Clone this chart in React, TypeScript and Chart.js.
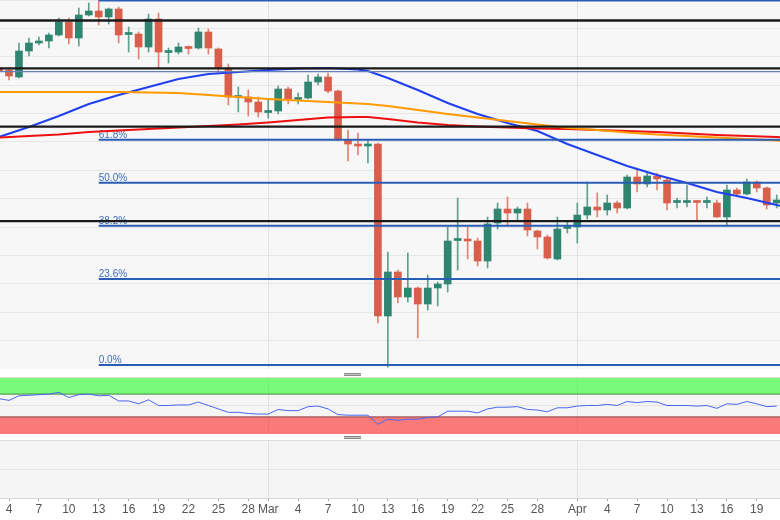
import React, { useEffect, useRef } from "react";
import { Chart, registerables } from "chart.js";

Chart.register(...registerables);
Chart.defaults.font.family = '"Liberation Sans", Arial, sans-serif';

// ---------------- data ----------------
// day index: 0 = 4 Feb 2020 (daily candles, weekends included)
const candleDays = [
  -1, 0, 1, 2, 3, 4, 5, 6, 7, 8, 9, 10, 11, 12, 13, 14, 15, 16, 17, 18, 19,
  20, 21, 22, 23, 24, 25, 26, 27, 28, 29, 30, 31, 32, 33, 34, 35, 36, 37, 38,
  39, 40, 41, 42, 43, 44, 45, 46, 47, 48, 49, 50, 51, 52, 53, 54, 55, 56, 57,
  58, 59, 60, 61, 62, 63, 64, 65, 66, 67, 68, 69, 70, 71, 72, 73, 74, 75, 76, 77,
];
const opens = [
  9296, 9260, 9134, 9602, 9746, 9782, 9890, 10124, 9836, 10250, 10322, 10214, 10358, 9899, 9908, 9674, 10178, 9575, 9584, 9656, 9656,
  9944, 9638, 9296, 8765, 8774, 8684, 8495, 8522, 8918, 8729, 8756, 9044, 9134, 8882, 8000, 7928, 7892, 7928, 4832,
  5624, 5174, 5336, 5048, 5336, 5408, 6191, 6218, 6182, 5822, 6506, 6758, 6686, 6758, 6362, 6254, 5858, 6407, 6434,
  6650, 6794, 6740, 6866, 6776, 7334, 7208, 7352, 7280, 6875, 6875, 6893, 6875, 6866, 6614, 7100, 7028, 7244, 7136, 6866,
];
const highs = [
  9368, 9296, 9746, 9836, 9854, 9926, 10196, 10196, 10376, 10466, 10510, 10376, 10394, 10034, 9944, 10268, 10286, 9656, 9746, 9692, 10016,
  9998, 9656, 9368, 8954, 8900, 8774, 8720, 8972, 8954, 8846, 9170, 9188, 9206, 8900, 8180, 8126, 8000, 7946, 5984,
  5660, 5966, 5354, 5570, 5444, 6434, 6956, 6434, 6236, 6614, 6866, 6974, 6794, 6866, 6380, 6290, 6614, 6524, 6866,
  7244, 7046, 7010, 6902, 7370, 7496, 7424, 7406, 7316, 6956, 7190, 6902, 6974, 6920, 7190, 7136, 7298, 7262, 7154, 7010,
];
const lows = [
  9188, 9080, 9116, 9512, 9710, 9656, 9872, 9728, 9692, 10232, 10070, 10088, 9746, 9584, 9458, 9584, 9296, 9386, 9548, 9548, 9638,
  9548, 9224, 8630, 8504, 8432, 8414, 8396, 8468, 8648, 8648, 8738, 8990, 8846, 7982, 7622, 7730, 7586, 4706, 3910,
  5066, 5084, 4436, 4940, 5012, 5264, 5660, 5858, 5732, 5696, 6398, 6470, 6560, 6272, 6038, 5858, 5840, 6326, 6146,
  6578, 6614, 6650, 6686, 6758, 7064, 7154, 7100, 6740, 6776, 6794, 6560, 6776, 6605, 6470, 6992, 7010, 7064, 6758, 6776,
];
const closes = [
  9242, 9152, 9602, 9746, 9782, 9890, 10124, 9836, 10250, 10322, 10214, 10358, 9890, 9908, 9674, 10178, 9584, 9584, 9674, 9647, 9944,
  9656, 9296, 8774, 8774, 8684, 8504, 8504, 8918, 8738, 8738, 9044, 9134, 8882, 8018, 7928, 7892, 7928, 4832, 5624,
  5174, 5336, 5048, 5336, 5408, 6182, 6200, 6182, 5822, 6488, 6758, 6686, 6758, 6380, 6254, 5876, 6398, 6416, 6650,
  6794, 6740, 6866, 6776, 7334, 7208, 7352, 7298, 6866, 6884, 6884, 6875, 6884, 6614, 7100, 7028, 7244, 7136, 6830, 6920,
];

// moving averages
const maDays = [-1, 2, 5, 8, 11, 14, 17, 20, 23, 26, 29, 32, 35, 36, 38, 41, 44, 47, 50, 53, 56, 59, 62, 65, 68, 71, 74, 77, 78];
const maFast = [8054, 8234, 8432, 8648, 8810, 8954, 9098, 9188, 9224, 9260, 9287, 9296, 9269, 9242, 9116, 8900, 8666, 8468, 8306, 8162, 7928, 7730, 7532, 7370, 7226, 7064, 6956, 6830, 6794];
const maMid = [8864, 8864, 8864, 8864, 8864, 8855, 8846, 8810, 8774, 8738, 8711, 8684, 8657, 8648, 8612, 8540, 8468, 8405, 8342, 8279, 8216, 8180, 8135, 8099, 8072, 8045, 8018, 7991, 7982];
const maSlow = [8045, 8072, 8099, 8144, 8171, 8198, 8225, 8252, 8279, 8315, 8360, 8405, 8414, 8414, 8378, 8315, 8270, 8243, 8225, 8207, 8198, 8180, 8162, 8144, 8117, 8090, 8072, 8054, 8045];

// RSI (per candle day)
const rsiValues = [
  62, 59, 67, 68, 69, 70, 73, 64, 69, 70, 67, 68, 58, 58, 53, 60, 50, 50, 51, 51, 56,
  50, 44, 38, 38, 36, 35, 35, 43, 41, 41, 48, 49, 44, 34, 33, 33, 33, 17, 26,
  24, 26, 26, 29, 30, 40, 40, 40, 37, 44, 47, 47, 48, 43, 42, 39, 46, 46, 49,
  50, 50, 52, 50, 57, 55, 57, 56, 50, 50, 50, 49, 50, 45, 53, 52, 57, 53, 48, 49,
];
const rsiUpper = 70;
const rsiLower = 30;

// Fibonacci retracement (drawn from the 13 Feb high)
const fibStartDay = 9;
const fibHigh = 10510;
const fibLow = 3950;
const fibRatios = [0, 23.6, 38.2, 50, 61.8, 100];

// horizontal support / resistance lines
const blackLevels = [10150, 9290, 8240, 6540];
const thinBlueLevels = [9230];

// x axis ticks
const tickDays = [0, 3, 6, 9, 12, 15, 18, 21, 24, 26, 29, 32, 35, 38, 41, 44, 47, 50, 53, 57, 60, 63, 66, 69, 72, 75];
const tickLabels = ["4", "7", "10", "13", "16", "19", "22", "25", "28", "Mar", "4", "7", "10", "13", "16", "19", "22", "25", "28", "Apr", "4", "7", "10", "13", "16", "19"];
const monthDays = [26, 57];

// ---------------- view ----------------
const X_MIN = -0.903;
const X_MAX = 77.33;
const Y_MIN = 3878;
const Y_MAX = 10520;

const RED = "#d95f4c";
const GREEN = "#2f8570";
const RED_WICK = "#e2826f";
const GREEN_WICK = "#5f9f8e";

const panelBg = (color: string) => ({
  id: "panelBg",
  beforeDraw(chart: any) {
    const { ctx, chartArea: a } = chart;
    ctx.save();
    ctx.fillStyle = color;
    ctx.fillRect(a.left, a.top, a.right - a.left, a.bottom - a.top);
    ctx.restore();
  },
});

const topBorder = {
  id: "topBorder",
  afterDraw(chart: any) {
    const { ctx, chartArea: a } = chart;
    ctx.save();
    ctx.strokeStyle = "#dcdcdc";
    ctx.lineWidth = 1;
    ctx.beginPath();
    ctx.moveTo(a.left, a.top + 0.5);
    ctx.lineTo(a.right, a.top + 0.5);
    ctx.stroke();
    ctx.restore();
  },
};

const fibLabelPlugin = {
  id: "fibLabels",
  beforeDatasetsDraw(chart: any) {
    const { ctx, scales } = chart;
    const x = scales.x;
    const y = scales.y;
    ctx.save();
    ctx.font = '10px "Liberation Sans", Arial, sans-serif';
    ctx.fillStyle = "#3d6cbc";
    ctx.textBaseline = "alphabetic";
    ctx.textAlign = "left";
    fibRatios.forEach((r) => {
      const price = fibLow + ((fibHigh - fibLow) * r) / 100;
      const py = y.getPixelForValue(price);
      if (py < 12) return;
      ctx.fillText(r.toFixed(1) + "%", x.getPixelForValue(fibStartDay), py - 2);
    });
    ctx.restore();
  },
};

function xScale(showLabels: boolean) {
  return {
    type: "linear",
    min: X_MIN,
    max: X_MAX,
    offset: false,
    afterBuildTicks: (s: any) => {
      s.ticks = (showLabels ? tickDays : monthDays).map((v) => ({ value: v }));
    },
    afterFit: (s: any) => {
      s.height = showLabels ? 22 : 0;
    },
    border: { display: showLabels, color: "#d6d6d6" },
    grid: {
      offset: false,
      color: (c: any) => (c.tick && monthDays.includes(c.tick.value) ? "#e2e2e2" : "rgba(0,0,0,0)"),
      tickColor: "#a0a0a0",
      drawTicks: showLabels,
      tickLength: 3,
    },
    ticks: {
      display: showLabels,
      autoSkip: false,
      maxRotation: 0,
      padding: 1,
      color: "#555",
      font: { size: 12 },
      callback: (_v: any, i: number) => tickLabels[i],
    },
  };
}

function hidden(s: any) {
  s.width = 0;
}

function buildMain() {
  const up = candleDays.map((_, i) => closes[i] >= opens[i]);
  const datasets: any[] = [
    {
      type: "bar",
      data: candleDays.map((d, i) => ({ x: d, y: [lows[i], highs[i]] })),
      backgroundColor: up.map((u) => (u ? GREEN_WICK : RED_WICK)),
      barThickness: 1,
      grouped: false,
      order: 6,
    },
    {
      type: "bar",
      data: candleDays.map((d, i) => ({ x: d, y: [opens[i], closes[i]] })),
      backgroundColor: up.map((u) => (u ? GREEN : RED)),
      barThickness: 7,
      minBarLength: 2,
      grouped: false,
      order: 5,
    },
  ];
  const maSets: [number[], string][] = [
    [maMid, "#ff9a00"],
    [maSlow, "#ee1010"],
    [maFast, "#2040f0"],
  ];
  maSets.forEach(([vals, color]) => {
    datasets.push({
      type: "line",
      data: maDays.map((d, i) => ({ x: d, y: vals[i] })),
      borderColor: color,
      borderWidth: 2,
      pointRadius: 0,
      tension: 0,
      fill: false,
      order: 4,
    });
  });
  fibRatios.forEach((r) => {
    const price = fibLow + ((fibHigh - fibLow) * r) / 100;
    datasets.push({
      type: "line",
      data: [
        { x: fibStartDay, y: price },
        { x: X_MAX + 5, y: price },
      ],
      borderColor: "#2a5db4",
      borderWidth: 2,
      pointRadius: 0,
      fill: false,
      order: 2,
    });
  });
  thinBlueLevels.forEach((p) => {
    datasets.push({
      type: "line",
      data: [
        { x: X_MIN - 5, y: p },
        { x: X_MAX + 5, y: p },
      ],
      borderColor: "#6682b4",
      borderWidth: 1.2,
      pointRadius: 0,
      fill: false,
      order: 1,
    });
  });
  blackLevels.forEach((p) => {
    datasets.push({
      type: "line",
      data: [
        { x: X_MIN - 5, y: p },
        { x: X_MAX + 5, y: p },
      ],
      borderColor: "#1a1a1a",
      borderWidth: 2.4,
      pointRadius: 0,
      fill: false,
      order: 0,
    });
  });
  return {
    type: "bar",
    data: { datasets },
    options: {
      responsive: false,
      animation: false,
      layout: { padding: 0 },
      plugins: { legend: { display: false }, tooltip: { enabled: false } },
      scales: {
        x: xScale(false),
        y: {
          type: "linear",
          min: Y_MIN,
          max: Y_MAX,
          afterFit: hidden,
          border: { display: false },
          grid: { color: "#e7e7e7", drawTicks: false },
          ticks: { display: false, stepSize: 500, includeBounds: false },
        },
      },
    },
    plugins: [panelBg("#f7f7f7"), fibLabelPlugin],
  };
}

function buildRsi() {
  return {
    type: "line",
    data: {
      datasets: [
        {
          data: [
            { x: X_MIN - 5, y: rsiUpper },
            { x: X_MAX + 5, y: rsiUpper },
          ],
          borderColor: "#3f8a3f",
          borderWidth: 1,
          backgroundColor: "rgba(0,255,0,0.5)",
          fill: "end",
          pointRadius: 0,
          order: 2,
        },
        {
          data: [
            { x: X_MIN - 5, y: rsiLower },
            { x: X_MAX + 5, y: rsiLower },
          ],
          borderColor: "#8a4040",
          borderWidth: 1,
          backgroundColor: "rgba(255,0,0,0.5)",
          fill: "start",
          pointRadius: 0,
          order: 2,
        },
        {
          data: candleDays.map((d, i) => ({ x: d, y: rsiValues[i] })),
          borderColor: "#4a66f0",
          borderWidth: 1,
          pointRadius: 0,
          fill: false,
          tension: 0,
          order: 0,
        },
      ],
    },
    options: {
      responsive: false,
      animation: false,
      layout: { padding: 0 },
      plugins: { legend: { display: false }, tooltip: { enabled: false } },
      scales: {
        x: xScale(false),
        y: {
          type: "linear",
          min: 0,
          max: 100,
          afterFit: hidden,
          afterBuildTicks: (s: any) => {
            s.ticks = [{ value: 50 }];
          },
          border: { display: false },
          grid: { color: "#e4e4e4", drawTicks: false },
          ticks: { display: false },
        },
      },
    },
    plugins: [panelBg("#f5f5f5"), topBorder],
  };
}

function buildBottom() {
  return {
    type: "line",
    data: { datasets: [{ data: [] as any[] }] },
    options: {
      responsive: false,
      animation: false,
      layout: { padding: 0 },
      plugins: { legend: { display: false }, tooltip: { enabled: false } },
      scales: {
        x: xScale(true),
        y: {
          type: "linear",
          min: 0,
          max: 2,
          afterFit: hidden,
          afterBuildTicks: (s: any) => {
            s.ticks = [{ value: 1 }];
          },
          border: { display: false },
          grid: { color: "#e4e4e4", drawTicks: false },
          ticks: { display: false },
        },
      },
    },
    plugins: [panelBg("#f5f5f5"), topBorder],
  };
}

function ChartCanvas({ top, height, build }: { top: number; height: number; build: () => any }) {
  const ref = useRef<HTMLCanvasElement>(null);
  useEffect(() => {
    const chart = new Chart(ref.current as HTMLCanvasElement, build());
    return () => chart.destroy();
  }, []);
  return (
    <canvas
      ref={ref}
      width={780}
      height={height}
      style={{ position: "absolute", left: 0, top, width: 780, height, display: "block" }}
    />
  );
}

function Grip({ top }: { top: number }) {
  return (
    <div
      style={{
        position: "absolute",
        left: 344,
        top,
        width: 17,
        height: 1,
        background: "#c4c4c4",
        borderTop: "1px solid #8a8a8a",
        borderBottom: "1px solid #8a8a8a",
      }}
    />
  );
}

export default function App() {
  return (
    <div style={{ position: "absolute", left: 0, top: 0, width: 780, height: 520, background: "#ffffff", overflow: "hidden" }}>
      <ChartCanvas top={0} height={369} build={buildMain} />
      <Grip top={373} />
      <ChartCanvas top={377} height={57} build={buildRsi} />
      <Grip top={436} />
      <ChartCanvas top={440} height={80} build={buildBottom} />
    </div>
  );
}
